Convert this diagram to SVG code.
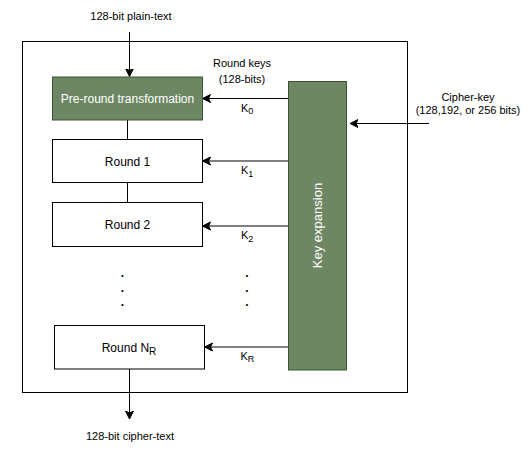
<svg xmlns="http://www.w3.org/2000/svg" width="532" height="454" viewBox="0 0 532 454">
<defs>
<style>
text{font-family:"Liberation Sans",Arial,sans-serif;fill:#000}
.box{fill:#fff;stroke:#000;stroke-width:1}
.green{fill:#6d8764;stroke:#3a5431;stroke-width:1}
.wt{fill:#fff}
.c12{font-size:12px;text-anchor:middle}
.c11{font-size:11px;text-anchor:middle}
.ln{stroke:#000;stroke-width:1;fill:none}
.arr{stroke:#000;stroke-width:1;fill:none;marker-end:url(#ah)}
.dot{font-size:12px;font-weight:bold;text-anchor:middle}
</style>
<marker id="ah" markerUnits="userSpaceOnUse" markerWidth="10" markerHeight="10" refX="8" refY="4.5" orient="auto" viewBox="0 0 10 9">
<path d="M0,0.5 L8,4.5 L0,8.5 L2,4.5 z" fill="#000" stroke="#000" stroke-width="1"/>
</marker>
</defs>

<g id="frame"><rect x="22.5" y="41.5" width="385" height="351" fill="none" stroke="#000" stroke-width="1"/></g>

<g id="connectors">
<line class="arr" x1="129.5" y1="32" x2="129.5" y2="76.5"/>
<line class="ln" x1="127.5" y1="120" x2="127.5" y2="139.5"/>
<line class="ln" x1="127.5" y1="182.5" x2="127.5" y2="202.5"/>
<line class="arr" x1="129.5" y1="369" x2="129.5" y2="419"/>
<line class="arr" x1="288.5" y1="98.5" x2="202.5" y2="98.5"/>
<line class="arr" x1="288.5" y1="161" x2="202.5" y2="161"/>
<line class="arr" x1="288.5" y1="226" x2="202.5" y2="226"/>
<line class="arr" x1="288.5" y1="347" x2="204.5" y2="347"/>
<line class="arr" x1="429" y1="123.5" x2="350" y2="123.5"/>
</g>

<g id="plain-text-label"><text class="c11" x="131" y="20">128-bit plain-text</text></g>
<g id="cipher-text-label"><text class="c11" x="130" y="440">128-bit cipher-text</text></g>
<g id="round-keys-label"><text class="c11" x="242" y="67">Round keys</text><text class="c11" x="242" y="83">(128-bits)</text></g>
<g id="cipher-key-label"><text class="c11" x="468" y="100.5">Cipher-key</text><text class="c11" x="468" y="113.5">(128,192, or 256 bits)</text></g>

<g id="pre-round"><rect class="green" x="52.5" y="77" width="150" height="43"/><text class="c12 wt" x="127.5" y="102.5">Pre-round transformation</text></g>
<g id="round1"><rect class="box" x="52.5" y="139.5" width="150" height="43"/><text class="c12" x="127.5" y="165.5">Round 1</text></g>
<g id="round2"><rect class="box" x="52.5" y="202.5" width="150" height="44"/><text class="c12" x="127.5" y="229">Round 2</text></g>
<g id="roundNR"><rect class="box" x="54.5" y="325.5" width="150" height="43.5"/><text class="c12" x="129" y="351.5">Round N<tspan font-size="10" dy="3">R</tspan></text></g>

<g id="key-expansion"><rect class="green" x="288.5" y="81.5" width="58" height="288.5"/><text class="wt" font-size="13" text-anchor="middle" transform="translate(317.5,225.5) rotate(-90)" x="0" y="4.5">Key expansion</text></g>

<g id="key-labels" font-size="11">
<text x="241" y="111.5">K<tspan font-size="9" dy="2.5">0</tspan></text>
<text x="241" y="174">K<tspan font-size="9" dy="2.5">1</tspan></text>
<text x="241" y="239">K<tspan font-size="9" dy="2.5">2</tspan></text>
<text x="240.5" y="359.5">K<tspan font-size="9" dy="2.5">R</tspan></text>
</g>

<g id="dots">
<text class="dot"><tspan x="122.5" y="276.5">.</tspan><tspan x="122.5" y="291.5">.</tspan><tspan x="122.5" y="306">.</tspan></text>
<text class="dot"><tspan x="247" y="276.5">.</tspan><tspan x="247" y="291.5">.</tspan><tspan x="247" y="306">.</tspan></text>
</g>
</svg>
